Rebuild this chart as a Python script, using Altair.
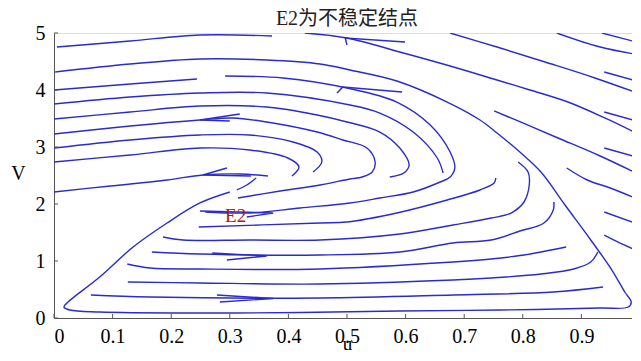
import altair as alt
import pandas as pd

# ---- streamline samples (u, V) ----
s1_u = [0.005, 0.130, 0.249, 0.372]
s1_v = [4.754, 4.860, 4.965, 4.947]
b1_u = [0.428, 0.5, 0.590, 0.676, 0.756, 0.812, 0.877, 0.940, 1.0]
b1_v = [5.0, 4.912, 4.667, 4.421, 4.175, 4.0, 3.789, 3.509, 3.211]
b2_u = [0.676, 0.756, 0.838, 0.923, 1.0]
b2_v = [5.0, 4.754, 4.491, 4.211, 3.930]
b3_u = [0.858, 0.932, 1.0]
b3_v = [5.0, 4.754, 4.614]
b4_u = [0.935, 1.0]
b4_v = [5.0, 4.825]
r1_u = [0.939, 1.0]
r1_v = [4.316, 4.140]
r2_u = [0.939, 1.0]
r2_v = [3.614, 3.439]
r3_u = [0.939, 1.0]
r3_v = [2.982, 2.807]
b5_u = [0.751, 0.804, 0.860, 0.932, 1.0]
b5_v = [3.632, 3.404, 3.158, 2.842, 2.509]
b6_u = [0.875, 0.910, 0.949, 1.0]
b6_v = [2.632, 2.421, 2.281, 2.070]
r4_u = [0.939, 1.0]
r4_v = [1.860, 1.632]
r5_u = [0.939, 0.973, 1.0]
r5_v = [1.456, 1.281, 1.158]
s2_u = [0.002, 0.130, 0.249, 0.363, 0.454, 0.505, 0.585, 0.671, 0.727, 0.756,
        0.795, 0.831, 0.872, 0.916, 0.952, 0.974, 0.985, 0.980, 0.932, 0.761,
        0.590, 0.420, 0.249, 0.078, 0.027, 0.017, 0.024, 0.078, 0.135, 0.193,
        0.249, 0.300]
s2_v = [4.316, 4.456, 4.544, 4.526, 4.456, 4.351, 4.158, 3.789, 3.474, 3.246,
        2.912, 2.561, 1.982, 1.368, 0.842, 0.456, 0.281, 0.193, 0.175, 0.140,
        0.123, 0.096, 0.088, 0.105, 0.140, 0.193, 0.281, 0.719, 1.246, 1.667,
        2.018, 2.211]
d2_u = [0.312, 0.329, 0.345]
d2_v = [2.246, 2.333, 2.456]
s3a_u = [0.0, 0.130, 0.244]
s3a_v = [4.0, 4.105, 4.193]
s3b_u = [0.292, 0.391, 0.5, 0.585, 0.642, 0.676, 0.684, 0.676, 0.659, 0.613,
         0.556, 0.505, 0.420, 0.334, 0.258]
s3b_v = [4.246, 4.211, 4.035, 3.789, 3.386, 2.912, 2.632, 2.474, 2.386, 2.211,
         2.105, 2.018, 1.930, 1.842, 1.860]
s4_u = [0.0, 0.130, 0.249, 0.363, 0.505, 0.556, 0.613, 0.654, 0.664]
s4_v = [3.754, 3.877, 3.947, 3.947, 3.737, 3.596, 3.263, 2.807, 2.544]
l3_u = [0.247, 0.454, 0.5, 0.585, 0.671, 0.727, 0.751, 0.754]
l3_v = [1.596, 1.667, 1.684, 1.842, 2.070, 2.246, 2.368, 2.456]
s5_u = [0.0, 0.130, 0.249, 0.363, 0.449, 0.5, 0.556, 0.590, 0.606, 0.597, 0.573]
s5_v = [3.491, 3.614, 3.719, 3.702, 3.561, 3.439, 3.263, 2.982, 2.684, 2.544, 2.474]
s6_u = [0.0, 0.130, 0.249, 0.305, 0.363, 0.449, 0.493, 0.534, 0.548, 0.543,
        0.526, 0.505, 0.454, 0.386, 0.314]
s6_v = [3.228, 3.368, 3.474, 3.509, 3.439, 3.263, 3.123, 2.982, 2.737, 2.561,
        2.474, 2.439, 2.333, 2.228, 2.105]
s7_u = [0.0, 0.130, 0.249, 0.334, 0.408, 0.449, 0.457, 0.442]
s7_v = [2.982, 3.123, 3.211, 3.211, 3.088, 2.912, 2.737, 2.561]
s8_u = [0.0, 0.130, 0.249, 0.334, 0.399, 0.418, 0.406]
s8_v = [2.737, 2.860, 2.982, 2.947, 2.807, 2.649, 2.491]
s9_u = [0.0, 0.096, 0.193, 0.254, 0.317, 0.365]
s9_v = [2.211, 2.316, 2.421, 2.509, 2.526, 2.491]
l4_u = [0.186, 0.220, 0.334, 0.454, 0.590, 0.681, 0.746, 0.780, 0.802, 0.811, 0.809, 0.792]
l4_v = [1.421, 1.368, 1.368, 1.368, 1.474, 1.632, 1.754, 1.842, 2.035, 2.333, 2.561, 2.737]
l5_u = [0.167, 0.249, 0.454, 0.590, 0.681, 0.746, 0.795, 0.836, 0.852, 0.853]
l5_v = [1.158, 1.123, 1.105, 1.158, 1.316, 1.368, 1.526, 1.667, 1.895, 2.035]
l6_u = [0.125, 0.164, 0.249, 0.454, 0.681, 0.746, 0.802, 0.848, 0.874]
l6_v = [0.947, 0.877, 0.860, 0.860, 0.982, 1.035, 1.105, 1.193, 1.246]
l7_u = [0.126, 0.249, 0.454, 0.681, 0.746, 0.831, 0.887, 0.916, 0.928]
l7_v = [0.632, 0.614, 0.596, 0.667, 0.702, 0.772, 0.860, 0.982, 1.158]
l8_u = [0.063, 0.164, 0.454, 0.681, 0.852, 0.937]
l8_v = [0.404, 0.368, 0.351, 0.404, 0.456, 0.544]

# arrow heads (tail - tip - tail)
a1_u = [0.278, 0.374, 0.283]
a1_v = [0.404, 0.342, 0.281]
a2_u = [0.270, 0.363, 0.295]
a2_v = [1.140, 1.088, 1.018]
a3_u = [0.249, 0.374, 0.329]
a3_v = [1.877, 1.842, 1.772]
a4_u = [0.317, 0.249, 0.300]
a4_v = [3.579, 3.474, 3.456]
a5_u = [0.295, 0.254, 0.336]
a5_v = [2.632, 2.509, 2.491]
a6_u = [0.599, 0.497, 0.5]
a6_v = [4.842, 4.912, 4.789]
a7_u = [0.594, 0.493, 0.483]
a7_v = [3.965, 4.053, 3.947]

x_ticks = [0, 0.1, 0.2, 0.3, 0.4, 0.5, 0.6, 0.7, 0.8, 0.9, 1]
y_ticks = [0, 1, 2, 3, 4, 5]
point_label = ["E2"]
point_u = [0.31]
point_v = [1.79]
title_text = "E2为不稳定结点"

streams = {
    "s1": (s1_u, s1_v), "b1": (b1_u, b1_v), "b2": (b2_u, b2_v), "b3": (b3_u, b3_v),
    "b4": (b4_u, b4_v), "r1": (r1_u, r1_v), "r2": (r2_u, r2_v), "r3": (r3_u, r3_v),
    "b5": (b5_u, b5_v), "b6": (b6_u, b6_v), "r4": (r4_u, r4_v), "r5": (r5_u, r5_v),
    "s2": (s2_u, s2_v), "d2": (d2_u, d2_v), "s3a": (s3a_u, s3a_v), "s3b": (s3b_u, s3b_v),
    "s4": (s4_u, s4_v), "l3": (l3_u, l3_v), "s5": (s5_u, s5_v), "s6": (s6_u, s6_v),
    "s7": (s7_u, s7_v), "s8": (s8_u, s8_v), "s9": (s9_u, s9_v), "l4": (l4_u, l4_v),
    "l5": (l5_u, l5_v), "l6": (l6_u, l6_v), "l7": (l7_u, l7_v), "l8": (l8_u, l8_v),
}
arrows = {
    "a1": (a1_u, a1_v), "a2": (a2_u, a2_v), "a3": (a3_u, a3_v), "a4": (a4_u, a4_v),
    "a5": (a5_u, a5_v), "a6": (a6_u, a6_v), "a7": (a7_u, a7_v),
}


def to_frame(d):
    rows = []
    for name, (us, vs) in d.items():
        for i, (u, v) in enumerate(zip(us, vs)):
            rows.append({"line": name, "i": i, "u": u, "V": v})
    return pd.DataFrame(rows)


df_s = to_frame(streams)
df_a = to_frame(arrows)

xs = alt.Scale(domain=[0, 1], nice=False, zero=False)
ys = alt.Scale(domain=[0, 5], nice=False, zero=False)
serif = "Liberation Serif"
blue = "#2a2ad0"

xaxis = alt.Axis(values=x_ticks, format="~g", ticks=False, tickSize=0, grid=False,
                 domainColor="#555555", labelFont=serif, labelFontSize=20,
                 labelColor="#000000", labelPadding=8, title="u", titleFont=serif,
                 titleFontSize=19, titleFontWeight="normal", titleColor="#000000",
                 titleY=31, titleBaseline="alphabetic")
yaxis = alt.Axis(values=y_ticks, format="~g", ticks=False, tickSize=0, grid=False,
                 domainColor="#555555", labelFont=serif, labelFontSize=20,
                 labelColor="#000000", labelPadding=9, title="V", titleFont=serif,
                 titleFontSize=20, titleFontWeight="normal", titleColor="#000000",
                 titleAngle=0, titleX=-36, titleY=146, titleBaseline="alphabetic",
                 titleAlign="center")

lines = alt.Chart(df_s).mark_line(color=blue, strokeWidth=1.4, clip=True,
                                  interpolate="catmull-rom").encode(
    x=alt.X("u:Q", scale=xs, axis=xaxis),
    y=alt.Y("V:Q", scale=ys, axis=yaxis),
    detail="line:N",
    order="i:Q",
)
heads = alt.Chart(df_a).mark_line(color=blue, strokeWidth=1.4, clip=True).encode(
    x=alt.X("u:Q", scale=xs), y=alt.Y("V:Q", scale=ys),
    detail="line:N", order="i:Q",
)

xt = alt.Chart(pd.DataFrame({"t": x_ticks})).mark_rule(color="#555555").encode(
    x=alt.X("t:Q", scale=xs), y=alt.value(285), y2=alt.value(281))
yt = alt.Chart(pd.DataFrame({"t": y_ticks})).mark_rule(color="#555555").encode(
    y=alt.Y("t:Q", scale=ys), x=alt.value(0), x2=alt.value(4))

lab = alt.Chart(pd.DataFrame({"u": point_u, "V": point_v, "txt": point_label})).mark_text(
    font=serif, fontSize=19, color="#b31515", align="center", baseline="middle").encode(
    x=alt.X("u:Q", scale=xs), y=alt.Y("V:Q", scale=ys), text="txt:N")

chart = alt.layer(lines, heads, xt, yt, lab).properties(
    width=586, height=285,
    title=alt.TitleParams(title_text, font="Liberation Serif, Noto Sans CJK SC",
                          fontSize=20, fontWeight="normal", color="#222222",
                          anchor="middle", offset=-6),
    autosize=alt.AutoSizeParams(type="none"),
    padding={"left": 46, "top": 25, "right": -8, "bottom": 35},
).configure_view(stroke=None).configure(background="white")

chart.save("out.html", embed_options={"renderer": "svg", "actions": False})
